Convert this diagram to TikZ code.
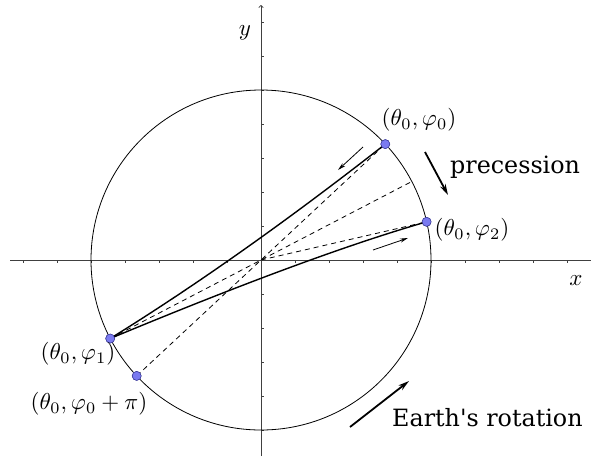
\documentclass[tikz,border=0pt]{standalone}
\usepackage{fontspec}
\newfontfamily\dvs{DejaVu Serif}
\usetikzlibrary{arrows.meta}
\definecolor{dotblue}{RGB}{122,122,240}
\definecolor{dotedge}{RGB}{60,60,150}
\newcommand\MyLbl[1]{\scalebox{2.3}{$#1$}}
\begin{document}
\begin{tikzpicture}[x=1pt,y=-1pt,
  dot/.style={circle,draw=dotedge,fill=dotblue,inner sep=0pt,minimum size=9pt,line width=0.5pt},
  lbl/.style={inner sep=0pt},
  txt/.style={font=\dvs\fontsize{23.8}{28}\selectfont,inner sep=0pt},
  axis/.style={line width=0.7pt,black!75},
  tick/.style={line width=0.5pt,black!75},
  path/.style={line width=1.4pt},
  guide/.style={line width=0.8pt,dash pattern=on 5pt off 4pt},
  small/.style={line width=0.8pt,-{Stealth[length=8pt,width=4pt]}},
  big/.style={line width=1.8pt,-{Stealth[length=11pt,width=6pt]}}]
\useasboundingbox (0,0) rectangle (591,459);
% axes
\coordinate (c) at (261,260);
\coordinate (xl) at (10,260);
\coordinate (xr) at (591,260);
\coordinate (yb) at (261,456);
\coordinate (yt) at (261,5);
\draw[axis] (xl) -- (xr);
\draw[axis,-{To[length=3pt,width=5pt]}] (yb) -- (yt);
\foreach \k in {-7,...,-1,1,2,...,9} \draw[tick] (261+34*\k,260) -- ++(0,3);
\foreach \k in {-7,...,-1,1,2,...,5} \draw[tick] (261,260+34*\k) -- ++(3,0);
\node[lbl] (ylab) at (245,33) {\MyLbl{y}};
\node[lbl] (xlab) at (576,281) {\MyLbl{x}};
% circle
\draw[line width=0.8pt] (c) circle (170pt);
% points
\node[dot] (p0) at (385.3,144.1) {};
\node[dot] (p2) at (426.6,221.8) {};
\node[dot] (p1) at (110.2,338.5) {};
\node[dot] (pp) at (136.7,375.9) {};
\coordinate (q1) at (411.8,181.5);
% dashed guides
\draw[guide] (pp.center) -- (p0.center);
\draw[guide] (p1.center) -- (q1);
\draw[guide] (c) -- (p2.center);
% solid paths
\draw[path] (p1.center) .. controls (196.7,285) and (288.7,219.7) .. (p0.center);
\draw[path] (p1.center) .. controls (242,283.7) and (347.5,244.6) .. (p2.center);
\node[dot] at (p0) {};
\node[dot] at (p2) {};
\node[dot] at (p1) {};
\node[dot] at (pp) {};
% small arrows
\coordinate (a0s) at (363,147);
\coordinate (a0e) at (338,170);
\coordinate (a2s) at (373,250);
\coordinate (a2e) at (408,238);
\draw[small] (a0s) -- (a0e);
\draw[small] (a2s) -- (a2e);
% big arrows
\coordinate (ps) at (425,152);
\coordinate (pe) at (448,195);
\coordinate (es) at (350,427);
\coordinate (ee) at (409,381);
\draw[big] (ps) -- (pe);
\draw[big] (es) -- (ee);
% labels
\node[lbl] (l0) at (419,120) {\MyLbl{(\theta_0,\varphi_0)}};
\node[lbl] (l2) at (472,230) {\MyLbl{(\theta_0,\varphi_2)}};
\node[lbl] (l1) at (78,354) {\MyLbl{(\theta_0,\varphi_1)}};
\node[lbl] (lp) at (89,404) {\MyLbl{(\theta_0,\varphi_0+\pi)}};
\node[txt,anchor=base west] (prec) at (450,173) {precession};
\node[txt,anchor=base west] (earth) at (392,426) {Earth's rotation};
\end{tikzpicture}
\end{document}
